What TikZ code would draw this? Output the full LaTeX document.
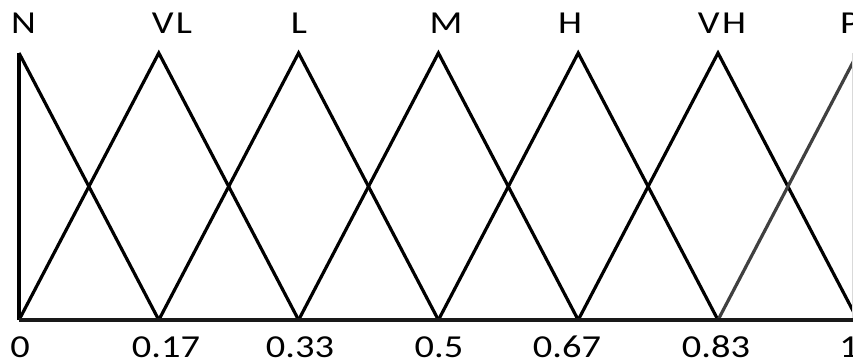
\documentclass[tikz,border=0pt]{standalone}
\usepackage{fontspec}
\setmainfont{Carlito}
\tikzset{
  mf/.style={line width=3.2pt, line join=miter, line cap=butt},
  axisline/.style={line width=4.2pt},
  lbl/.style={anchor=base, inner sep=0pt, font=\fontsize{32}{32}\selectfont, text=black},
}
\newcommand{\wtxt}[1]{\scalebox{1.2}[1]{#1}}
\begin{document}
\begin{tikzpicture}[x=1pt,y=-1pt]
\useasboundingbox (0,0) rectangle (853,363);
\begin{scope}
\clip (0,0) rectangle (853,363);
% peaks and feet
\foreach \i in {0,...,6} {
  \coordinate (p\i) at ({19+139.8*\i},53);
  \coordinate (f\i) at ({19+139.8*\i},320);
}
\coordinate (e1) at (853,320);
% left vertical edge
\draw[mf] (f0) -- (p0);
% N
\draw[mf] (p0) -- (f1);
% VL, L, M, H, VH
\foreach \a/\b/\c in {0/1/2,1/2/3,2/3/4,3/4/5,4/5/6} {
  \draw[mf] (f\a) -- (p\b) -- (f\c);
}
% P
\draw[mf, draw=black!75] (f5) -- (p6);
\draw[line width=1pt, draw=black!15] (852.5,53) -- (852.5,320);
% axis
\draw[axisline, draw=black!90] (f0) -- (e1);
\end{scope}
% top labels
\node[lbl] (lN) at (23.5,34) {\wtxt{N}};
\node[lbl] (lVL) at (172,34) {\wtxt{V\kern2pt L}};
\node[lbl] (lL) at (299,34) {\wtxt{L}};
\node[lbl] (lM) at (446,34) {\wtxt{M}};
\node[lbl] (lH) at (570,34) {\wtxt{H}};
\node[lbl] (lVH) at (722,34) {\wtxt{V\kern2pt H}};
\node[lbl] (lP) at (850,34) {\wtxt{P}};
% bottom labels
\node[lbl] (b0) at (20,357) {\wtxt{0}};
\node[lbl] (b1) at (166,357) {\wtxt{0.17}};
\node[lbl] (b2) at (300,357) {\wtxt{0.33}};
\node[lbl] (b3) at (439,357) {\wtxt{0.5}};
\node[lbl] (b4) at (567,357) {\wtxt{0.67}};
\node[lbl] (b5) at (716,357) {\wtxt{0.83}};
\node[lbl] (b6) at (849,357) {\wtxt{1}};
\end{tikzpicture}
\end{document}
